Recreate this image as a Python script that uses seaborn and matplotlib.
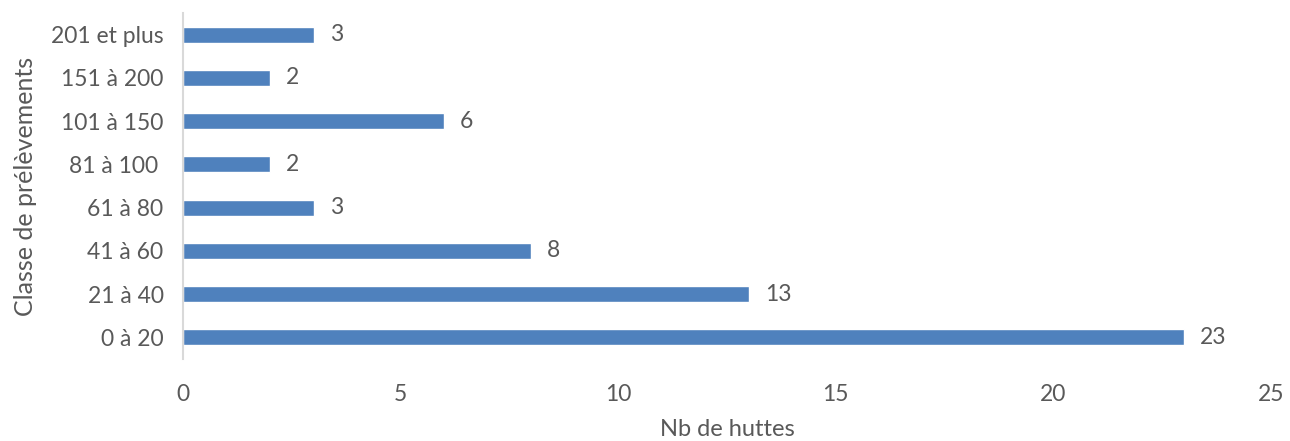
import matplotlib
matplotlib.use("Agg")
import matplotlib.pyplot as plt
import seaborn as sns
import pandas as pd

categories = ["201 et plus", "151 à 200", "101 à 150", "81 à 100 ", "61 à 80", "41 à 60", "21 à 40", "0 à 20"]
values = [3, 2, 6, 2, 3, 8, 13, 23]
xticks = [0, 5, 10, 15, 20, 25]

sns.set_theme(style="white")
plt.rcParams['font.family'] = ['Lato', 'DejaVu Sans']

df = pd.DataFrame({"cat": categories, "val": values})

fig = plt.figure(figsize=(12.9, 4.41), dpi=100)
ax = fig.add_axes([183/1290, 1-359/441, (1271-183)/1290, (359-13)/441])

sns.barplot(data=df, x="val", y="cat", order=categories, color="#4F81BD",
            saturation=1, width=0.37, ax=ax)

txt = "#595959"
for i, v in enumerate(values):
    ax.annotate(str(v), xy=(v, i), xytext=(16, 0), textcoords="offset pixels",
                ha="left", va="center", fontsize=16.5, color=txt)

ax.set_xlim(0, 25)
ax.set_ylim(len(categories)-0.5, -0.5)
ax.set_xticks(xticks)
ax.set_xticklabels([str(t) for t in xticks])
ax.tick_params(axis="both", colors=txt, labelsize=16.5, length=0)
ax.tick_params(axis="x", pad=18)
ax.tick_params(axis="y", pad=14)
for s in ["top", "right", "bottom"]:
    ax.spines[s].set_visible(False)
ax.spines["left"].set_color("#D9D9D9")
ax.spines["left"].set_linewidth(1.5)
ax.set_xlabel("Nb de huttes", fontsize=17, color=txt, labelpad=10)
ax.set_ylabel("Classe de prélèvements", fontsize=18, color=txt, labelpad=10)
ax.grid(False)

fig.savefig("out.png", dpi=100)
